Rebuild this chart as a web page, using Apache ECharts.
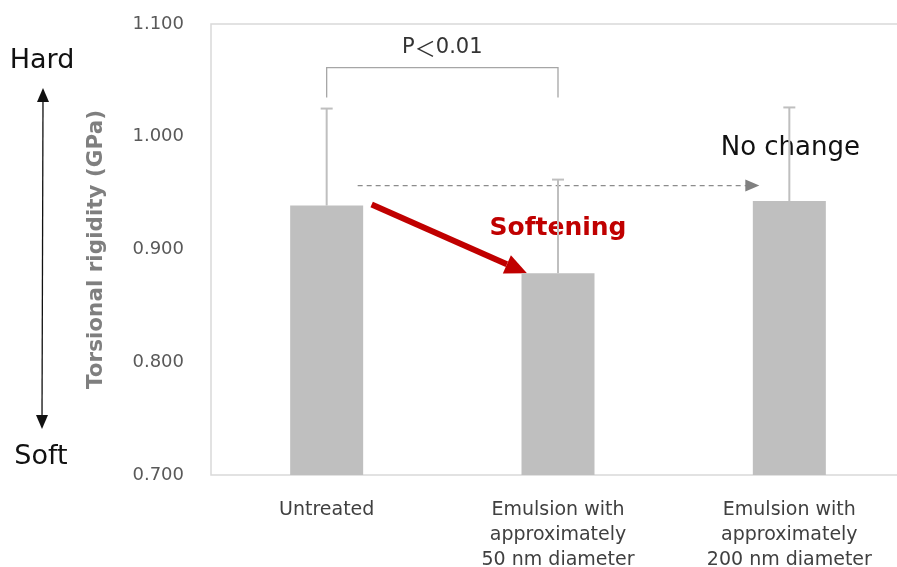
<!DOCTYPE html>
<html><head><meta charset="utf-8">
<script src="https://cdn.jsdelivr.net/npm/echarts@6/dist/echarts.min.js"></script>
<style>html,body{margin:0;padding:0;background:#fff}#c{width:897px;height:567px}</style>
</head><body><div id="c"></div>
<script>
const categories = ['Untreated', 'Emulsion with\napproximately\n50 nm diameter', 'Emulsion with\napproximately\n200 nm diameter'];
const means = [0.939, 0.879, 0.943];
const errUpper = [1.025, 0.962, 1.026];
const yTicks = [0.7, 0.8, 0.9, 1.0, 1.1];
const pParts = ['P', '＜', '0.01'];
const FONT = 'DejaVu Sans';

const chart = echarts.init(document.getElementById('c'));
const option = {
  animation: false,
  textStyle: {fontFamily: FONT},
  grid: {left: 211, right: -8, top: 24, bottom: 92, show: true, borderColor: '#D9D9D9', borderWidth: 1.5,
         containLabel: false, outerBoundsMode: 'none'},
  xAxis: {
    type: 'category', data: categories,
    axisLine: {show: false}, axisTick: {show: false},
    axisLabel: {color: '#404040', fontSize: 19, lineHeight: 25, margin: 23, fontFamily: FONT, interval: 0}
  },
  yAxis: {
    type: 'value', min: yTicks[0], max: yTicks[yTicks.length - 1], interval: 0.1,
    axisLine: {show: false}, axisTick: {show: false}, splitLine: {show: false},
    axisLabel: {color: '#595959', fontSize: 18, margin: 27, formatter: v => v.toFixed(3), fontFamily: FONT},
    name: 'Torsional rigidity (GPa)', nameLocation: 'middle', nameGap: 104, nameRotate: 90,
    nameTextStyle: {color: '#7F7F7F', fontSize: 21.5, fontWeight: 'bold', fontFamily: FONT}
  },
  series: [
    {type: 'bar', data: means, barWidth: 73, itemStyle: {color: '#BFBFBF'}, z: 2},
    {type: 'custom', z: 3,
      data: means.map((m, i) => [i, m, errUpper[i]]),
      renderItem: (params, api) => {
        const b = api.coord([api.value(0), api.value(1)]);
        const t = api.coord([api.value(0), api.value(2)]);
        const st = {stroke: '#BFBFBF', lineWidth: 2};
        return {type: 'group', children: [
          {type: 'line', shape: {x1: b[0], y1: b[1], x2: t[0], y2: t[1]}, style: st},
          {type: 'line', shape: {x1: t[0] - 6, y1: t[1], x2: t[0] + 6, y2: t[1]}, style: st}
        ]};
      }
    }
  ]
};
chart.setOption(option);

const P = (i, v) => chart.convertToPixel({xAxisIndex: 0, yAxisIndex: 0}, [i, v]);
const g = [];
// bracket
const b0 = P(0, errUpper[0]), b1 = P(1, errUpper[1]);
const bTop = b0[1] - 41, bBot = b0[1] - 11;
g.push({type: 'polyline', shape: {points: [[b0[0], bBot], [b0[0], bTop], [b1[0], bTop], [b1[0], bBot]]}, style: {stroke: '#A6A6A6', lineWidth: 1.3, fill: null}});
g.push({type: 'text', x: (b0[0] + b1[0]) / 2, y: bTop - 20, style: {
  text: '{a|' + pParts[0] + '}{b|' + pParts[1] + '}{a|' + pParts[2] + '}',
  align: 'center', verticalAlign: 'middle',
  rich: {
    a: {fontSize: 21, fill: '#333', color: '#333', fontFamily: FONT},
    b: {fontSize: 21, fill: '#333', color: '#333', fontFamily: 'Noto Sans CJK JP'}
  }}});
// dashed no-change arrow
const d0 = P(0, means[0]), d2 = P(2, means[2]);
const dy = d0[1] - 20;
const dxs = d0[0] + 31, dxe = d2[0] - 30;
g.push({type: 'line', shape: {x1: dxs, y1: dy, x2: dxe - 13, y2: dy}, style: {stroke: '#8C8C8C', lineWidth: 1.3, lineDash: [5, 4]}});
g.push({type: 'polygon', shape: {points: [[dxe - 14, dy - 6], [dxe, dy], [dxe - 14, dy + 6]]}, style: {fill: '#808080'}});
g.push({type: 'text', x: d2[0] + 1, y: dy - 37, style: {text: 'No change', fontSize: 26, fill: '#111', align: 'center', verticalAlign: 'middle', fontFamily: FONT}});
// red softening arrow
const r0 = P(0, means[0]), r1 = P(1, means[1]);
const sx = r0[0] + 45, sy = r0[1] - 1, ex = r1[0] - 31, ey = r1[1];
const ang = Math.atan2(ey - sy, ex - sx);
const hl = 22, hw = 10;
const bx = ex - hl * Math.cos(ang), by = ey - hl * Math.sin(ang);
g.push({type: 'line', shape: {x1: sx, y1: sy, x2: bx, y2: by}, style: {stroke: '#C00000', lineWidth: 6}});
g.push({type: 'polygon', shape: {points: [[ex, ey], [bx - hw * Math.sin(ang), by + hw * Math.cos(ang)], [bx + hw * Math.sin(ang), by - hw * Math.cos(ang)]]}, style: {fill: '#C00000'}});
g.push({type: 'text', x: r1[0] + 0, y: r1[1] - 45, style: {text: 'Softening', fontSize: 25, fontWeight: 'bold', fill: '#C00000', align: 'center', verticalAlign: 'middle', fontFamily: FONT}});
// Hard / Soft
g.push({type: 'text', x: 42, y: 61, style: {text: 'Hard', fontSize: 27, fill: '#111', align: 'center', verticalAlign: 'middle', fontFamily: FONT}});
g.push({type: 'text', x: 41, y: 457, style: {text: 'Soft', fontSize: 27, fill: '#111', align: 'center', verticalAlign: 'middle', fontFamily: FONT}});
g.push({type: 'line', shape: {x1: 43, y1: 100, x2: 42, y2: 416}, style: {stroke: '#111', lineWidth: 1.3}});
g.push({type: 'polygon', shape: {points: [[43, 88], [37, 102], [49, 102]]}, style: {fill: '#111'}});
g.push({type: 'polygon', shape: {points: [[42, 429], [36, 415], [48, 415]]}, style: {fill: '#111'}});
chart.setOption({graphic: {elements: g}});
</script></body></html>
